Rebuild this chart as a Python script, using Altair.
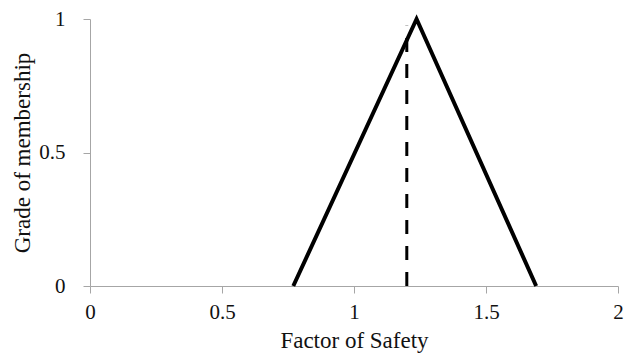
import altair as alt
import pandas as pd

# Triangular membership function (Factor of Safety)
tri_x = [0.77, 1.237, 1.69]
tri_y = [0.0, 1.0, 0.0]

# Dashed vertical reference line
dash_x = [1.2, 1.2]
dash_y = [0.0, 0.975]

x_ticks = [0, 0.5, 1, 1.5, 2]
y_ticks = [0, 0.5, 1]

tri = pd.DataFrame({"x": tri_x, "y": tri_y, "o": list(range(len(tri_x)))})
dash = pd.DataFrame({"x": dash_x, "y": dash_y, "o": list(range(len(dash_x)))})

FONT = "Liberation Serif"
TXT = "#111111"
AX = "#a6a6a6"
xscale = alt.Scale(domain=[0, 2], nice=False)
yscale = alt.Scale(domain=[0, 1], nice=False)

xaxis = alt.Axis(values=x_ticks, format="~g", title="Factor of Safety", grid=False,
                 labelFont=FONT, labelFontSize=21, titleFont=FONT, titleFontSize=23,
                 titleFontWeight="normal", labelColor=TXT, titleColor=TXT,
                 domainColor=AX, tickColor=AX, tickSize=7, labelPadding=8,
                 titlePadding=7, labelFlush=False)
yaxis = alt.Axis(values=y_ticks, format="~g", title="Grade of membership", grid=False,
                 labelFont=FONT, labelFontSize=21, titleFont=FONT, titleFontSize=23,
                 titleFontWeight="normal", labelColor=TXT, titleColor=TXT,
                 domainColor=AX, tickColor=AX, tickSize=7, labelPadding=18,
                 titlePadding=4, labelFlush=False)

line = alt.Chart(tri).mark_line(color="black", strokeWidth=4, strokeJoin="miter").encode(
    x=alt.X("x:Q", scale=xscale, axis=xaxis),
    y=alt.Y("y:Q", scale=yscale, axis=yaxis),
    order="o:O",
)
dashed = alt.Chart(dash).mark_line(color="black", strokeWidth=3, strokeDash=[14, 12]).encode(
    x=alt.X("x:Q", scale=xscale),
    y=alt.Y("y:Q", scale=yscale),
    order="o:O",
)

chart = alt.layer(line, dashed).properties(
    width=528, height=267,
    autosize=alt.AutoSizeParams(type="none"),
    padding={"left": 82, "top": 11, "right": 8, "bottom": 68},
).configure_view(stroke=None)

chart.save("out.html", embed_options={"renderer": "svg", "actions": False})
